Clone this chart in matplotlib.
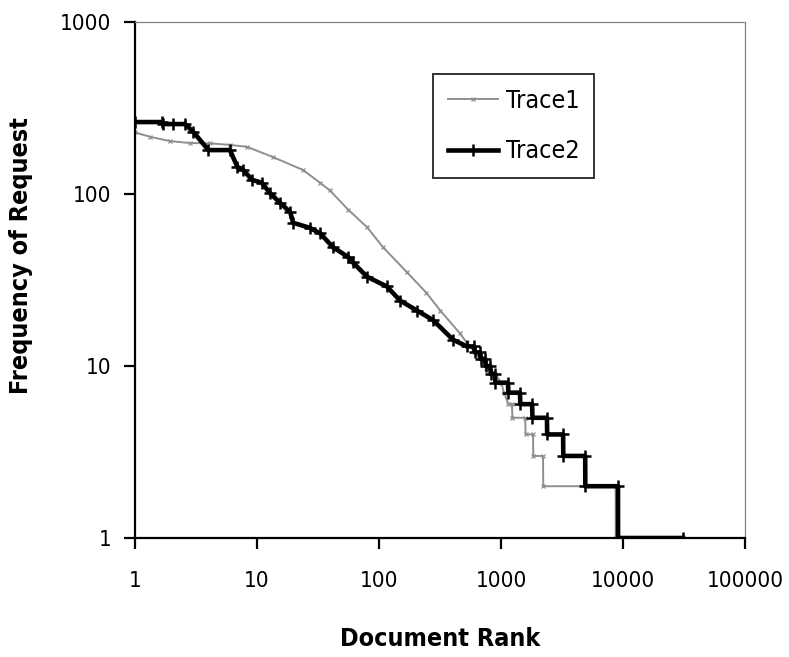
import numpy as np
import matplotlib
matplotlib.use("Agg")
import matplotlib.pyplot as plt
from matplotlib.ticker import FixedLocator, FuncFormatter, NullLocator

# narrow look like the original; falls back to plain DejaVu if no condensed face
plt.rcParams['font.family'] = ['Liberation Sans Narrow', 'DejaVu Sans']
plt.rcParams['font.stretch'] = 'condensed'

# Trace1 (gray) - rank vs request frequency
rank1 = [1, 1.33, 1.94, 2.8, 4.1, 6, 8.3, 13.5, 23.8, 33, 39.5, 56, 80, 108,
         170, 245, 318, 460, 526, 590, 760, 900, 1000, 1060, 1150, 1230,
         1240, 1580, 1590, 1830, 1840, 2210, 2220, 8700, 8710, 9500]
freq1 = [228, 215, 203, 198, 197, 193, 188, 164, 138, 116, 105, 81, 64, 49,
         35, 26.6, 21, 15.5, 13.6, 12.4, 9.8, 9, 8, 7, 6, 6,
         5, 5, 4, 4, 3, 3, 2, 2, 1, 1]

# Trace2 (black)
rank2 = [1, 1.66, 1.7, 2.05, 2.57, 3, 4, 6, 6.9, 7.7, 9.1, 11, 12.8, 15.4,
         18.7, 19.8, 27, 33, 42, 56, 61, 80, 116, 149, 205, 277, 405, 526,
         600, 610, 670, 680, 740, 750, 815, 825, 890, 900, 1140, 1150, 1430,
         1440, 1800, 1810, 2380, 2390, 3230, 3240, 4900, 4910, 9100, 9110, 31000]
freq2 = [262, 262, 255, 255, 255, 230, 180, 180, 144, 138, 121, 116, 101, 89,
         78.5, 68, 63.6, 59, 49, 43, 40, 33, 29, 24, 21, 18.5, 14.2, 13,
         13, 12, 12, 11, 11, 10, 10, 9, 9, 8, 8, 7, 7,
         6, 6, 5, 5, 4, 4, 3, 3, 2, 2, 1, 1]

x_ticks = [1, 10, 100, 1000, 10000, 100000]
y_ticks = [1, 10, 100, 1000]

fig = plt.figure(figsize=(7.89, 6.57), dpi=100)
ax = fig.add_axes([135 / 789, 1 - 538 / 657, 610 / 789, 516 / 657])

ax.plot(rank1, freq1, color='#8f8f8f', lw=1.4, marker='x', ms=3, mew=0.9,
        label='Trace1')
ax.plot(rank2, freq2, color='black', lw=3.3, marker='+', ms=8, mew=1.8,
        label='Trace2')

ax.set_xscale('log')
ax.set_yscale('log')
ax.set_xlim(1, 100000)
ax.set_ylim(1, 1000)

ax.xaxis.set_major_locator(FixedLocator(x_ticks))
ax.yaxis.set_major_locator(FixedLocator(y_ticks))
ax.xaxis.set_minor_locator(NullLocator())
ax.yaxis.set_minor_locator(NullLocator())
fmt = FuncFormatter(lambda v, p: f'{int(round(v))}')
ax.xaxis.set_major_formatter(fmt)
ax.yaxis.set_major_formatter(fmt)

ax.tick_params(axis='both', direction='out', length=8, width=1.6,
               labelsize=16, colors='black')
ax.tick_params(axis='x', pad=16)
ax.tick_params(axis='y', pad=9)

for side in ['left', 'bottom']:
    ax.spines[side].set_linewidth(1.6)
    ax.spines[side].set_color('black')
for side in ['top', 'right']:
    ax.spines[side].set_linewidth(0.9)
    ax.spines[side].set_color('#808080')
    ax.spines[side].set_linestyle((0, (1, 1)))

ax.set_xlabel('Document Rank', fontsize=18, fontweight='bold')
ax.set_ylabel('Frequency of Request', fontsize=18, fontweight='bold')
ax.xaxis.set_label_coords(0.5, -0.172)
ax.yaxis.set_label_coords(-0.168, 0.548)

leg = ax.legend(loc='upper left', bbox_to_anchor=((433 - 135) / 610, (538 - 74) / 516),
                fontsize=18, frameon=True, fancybox=False, borderpad=0.6,
                handlelength=2.0, handletextpad=0.3, labelspacing=1.05,
                borderaxespad=0)
leg.get_frame().set_edgecolor('black')
leg.get_frame().set_linewidth(1.4)

fig.savefig('out.png', dpi=100)
